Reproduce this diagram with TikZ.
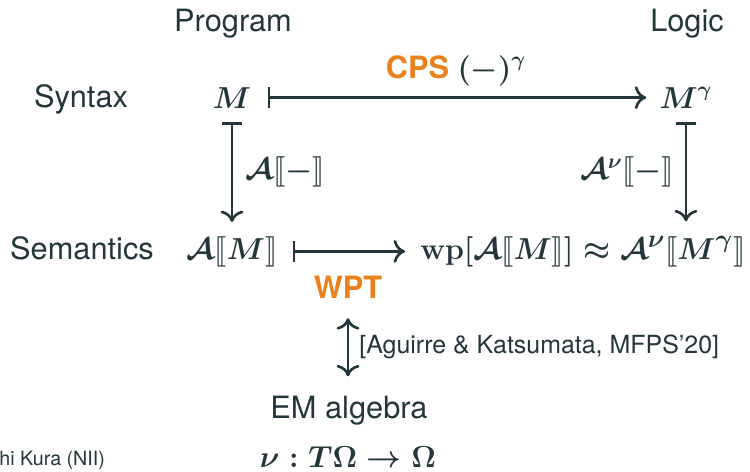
\documentclass[tikz,border=0pt]{standalone}
\usepackage[no-math]{fontspec}
\setmainfont{TeX Gyre Heros}
\usepackage{amsmath,amssymb,bm}
\usepackage{stmaryrd}
\usepackage{xcolor}
\usepackage{tikz}
\usetikzlibrary{
    arrows.meta,
    calc
}
\definecolor{mTeal}{HTML}{23373B}
\definecolor{mOrange}{HTML}{EB811B}

\begin{document}
\begin{tikzpicture}[x=0.02cm,y=0.02cm,
    txt/.style={text=mTeal,inner sep=0pt,font=\fontsize{17.5}{21}\selectfont},
    mth/.style={text=mTeal,inner sep=0pt,font=\fontsize{17.8}{21}\selectfont\boldmath},
    hl/.style={text=mOrange,inner sep=0pt,font=\fontsize{17.5}{21}\selectfont\bfseries},
    mapsto/.style={draw=mTeal,line width=1.5pt,
        {Bar[width=11.5pt,line width=1.5pt]}-{To[length=6.5pt,width=13pt]}},
    equiv/.style={draw=mTeal,line width=1.5pt,
        {To[length=6.5pt,width=13pt]}-{To[length=6.5pt,width=13pt]}}]
        \useasboundingbox (0,0) rectangle (750,471);

        % Column and row headers
        \node[txt,anchor=base] (prog) at (233,439) {Program};
        \node[txt,anchor=base] (logic) at (687,439) {Logic};
        \node[txt,anchor=base] (syn) at (81,364) {Syntax};
        \node[txt,anchor=base] (sem) at (82,212) {Semantics};

        % Diagram objects
        \node[mth,anchor=base] (m) at (232,363) {$M$};
        \node[mth,anchor=base] (mg) at (686,363) {$M^{\gamma}$};
        \node[mth,anchor=base] (am) at (232,212) {$\mathcal{A}\llbracket M\rrbracket$};
        \node[mth,anchor=base west,font=\fontsize{18.9}{22}\selectfont\boldmath] (wp) at (420,212)
            {$\mathbf{wp}[\mathcal{A}\llbracket M\rrbracket]\approx\mathcal{A}^{\nu}\llbracket M^{\gamma}\rrbracket$};

        % Translations
        \draw[mapsto,shorten <=9.3pt,shorten >=7.4pt] (m) -- (m -| mg.west);
        \node[txt,anchor=base] (cps) at (456,393)
            {\textbf{\color{mOrange}CPS} {\boldmath$(-)^{\gamma}$}};
        \draw[mapsto,shorten <=7.9pt,shorten >=7.9pt] (m.south) -- (m.south |- am.north)
            node[midway,right=7pt,mth] (den) {$\mathcal{A}\llbracket-\rrbracket$};
        \draw[mapsto,shorten <=7.9pt,shorten >=8.3pt] (mg.south) -- (mg.south |- wp.north)
            node[midway,left=6pt,mth] (denl) {$\mathcal{A}^{\nu}\llbracket-\rrbracket$};
        \draw[mapsto,shorten <=8.6pt,shorten >=8.5pt] (am) -- (am -| wp.west);
        \node[hl,anchor=base] (wpt) at (348,173) {WPT};

        % EM algebra
        \node[txt,anchor=base] (em) at (349,53) {EM algebra};
        \node[mth,anchor=base] (alg) at (348,4) {$\nu : T\Omega\to\Omega$};
        \draw[equiv,shorten <=11.3pt,shorten >=10.8pt] (wpt.south) -- (wpt.south |- em.north);
        \node[txt,anchor=base west,font=\fontsize{14.2}{17}\selectfont] (cite) at (359,118)
            {[Aguirre \& Katsumata, MFPS’20]};

        % Footer
        \node[txt,anchor=base west,font=\fontsize{11.2}{13}\selectfont] (foot) at (-1,6)
            {hi Kura (NII)};
    \end{tikzpicture}
\end{document}
